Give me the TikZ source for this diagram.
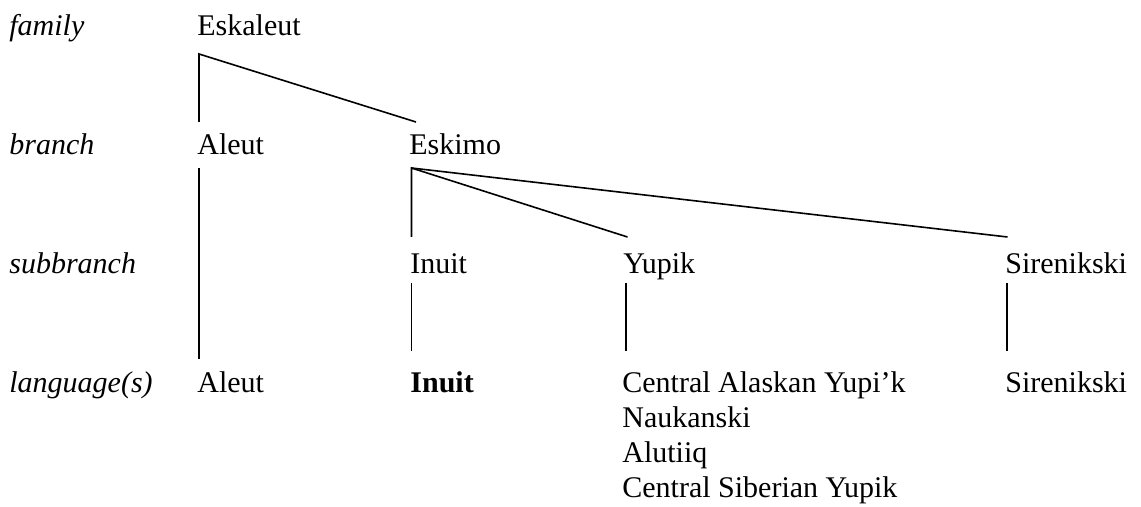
\documentclass[tikz,border=0pt]{standalone}
\usepackage{fontspec}
\setmainfont{Liberation Serif}
\begin{document}
\begin{tikzpicture}[x=0.5pt,y=-0.5pt,
  tn/.style={inner sep=0pt, anchor=base west, font=\fontsize{15}{17.5}\selectfont},
  lab/.style={tn, font=\fontsize{15}{17.5}\selectfont\itshape},
  edge/.style={line width=0.8pt, line cap=butt}]
\useasboundingbox (0,0) rectangle (1141,507);
% row labels
\node[lab] (lfam) at (9,36) {family};
\node[lab] (lbr) at (9,155) {branch};
\node[lab] (lsub) at (9,274) {subbranch};
\node[lab] (llang) at (9,393) {language(s)};
% tree nodes
\node[tn] (eskaleut) at (197,36) {Eskaleut};
\node[tn] (aleutB) at (197,155) {Aleut};
\node[tn] (eskimo) at (409,155) {Eskimo};
\node[tn] (inuitS) at (410,274) {Inuit};
\node[tn] (yupikS) at (623,274) {Yupik};
\node[tn] (sirenS) at (1005,274) {Sirenikski};
\node[tn] (aleutL) at (197,393) {Aleut};
\node[tn, font=\fontsize{15}{17.5}\selectfont\bfseries] (inuitL) at (410,393) {Inuit};
\node[tn] (yl1) at (622,393) {Central Alaskan Yupi’k};
\node[tn] (yl2) at (622,428) {Naukanski};
\node[tn] (yl3) at (622,463) {Alutiiq};
\node[tn] (yl4) at (622,498) {Central Siberian Yupik};
\node[tn] (sirenL) at (1005,393) {Sirenikski};
% connector end points
\coordinate (eskaleut-b) at (199,54);
\coordinate (aleutB-t) at (199,122);
\coordinate (eskimo-t) at (416,122);
\coordinate (aleutB-b) at (199,168);
\coordinate (aleutL-t) at (199,359);
\coordinate (eskimo-b) at (411.5,168);
\coordinate (inuitS-t) at (411.5,237);
\coordinate (yupikS-t) at (627.5,237);
\coordinate (sirenS-t) at (1007.5,237);
\coordinate (inuitS-b) at (411.5,283);
\coordinate (inuitL-t) at (411.5,351);
\coordinate (yupikS-b) at (626,283);
\coordinate (yl1-t) at (626,351);
\coordinate (sirenS-b) at (1007,283);
\coordinate (sirenL-t) at (1007,351);
% connectors
\draw[edge] (aleutB-t) -- (eskaleut-b) -- (eskimo-t);
\draw[edge] (aleutB-b) -- (aleutL-t);
\draw[edge] (inuitS-t) -- (eskimo-b) -- (yupikS-t);
\draw[edge] (eskimo-b) -- (sirenS-t);
\draw[edge] (inuitS-b) -- (inuitL-t);
\draw[edge] (yupikS-b) -- (yl1-t);
\draw[edge] (sirenS-b) -- (sirenL-t);
\end{tikzpicture}
\end{document}
